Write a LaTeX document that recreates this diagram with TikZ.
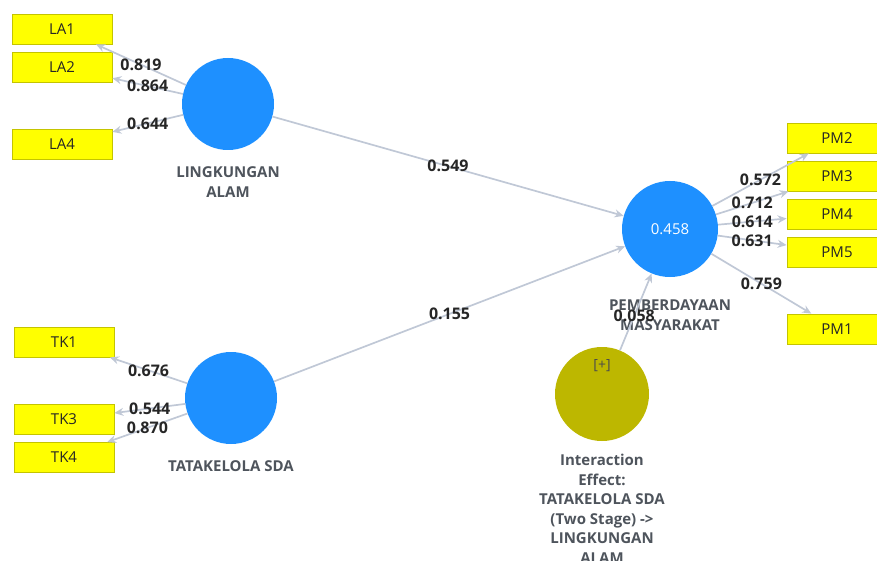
\documentclass[tikz,border=0pt]{standalone}
\usepackage{fontspec}
\setmainfont{Open Sans}
\usetikzlibrary{positioning,arrows.meta}

\definecolor{lvblue}{RGB}{30,144,255}
\definecolor{iaolive}{RGB}{189,183,0}
\definecolor{indyellow}{RGB}{255,255,0}
\definecolor{indborder}{RGB}{196,196,0}
\definecolor{lnkgray}{RGB}{192,200,214}
\definecolor{namegray}{RGB}{78,84,92}

\begin{document}
\begin{tikzpicture}[x=1pt, y=-1pt, >={Stealth[length=9pt,width=8pt]}, node distance=38pt, on grid,
    ind/.style={rectangle, draw=indborder, line width=0.8pt, fill=indyellow, minimum width=100pt, minimum height=30pt, inner sep=0pt, font=\fontsize{15}{18}\selectfont, text=black!85},
    lv/.style={circle, fill=lvblue, minimum size=92pt, inner sep=0pt, text=white, font=\fontsize{15}{18}\selectfont},
    lvname/.style={align=center, text=namegray, font=\bfseries\fontsize{15}{19.5}\selectfont},
    coef/.style={font=\bfseries\fontsize{16}{18}\selectfont, text=black!85, inner sep=1pt},
    lnk/.style={->, draw=lnkgray, line width=1.7pt}]

    \useasboundingbox (0,0) rectangle (877,561);

    % Konstrukte
    \node[lv] (LA) at (228,104) {};
    \node[lv] (TK) at (231,398) {};
    \node[lv, minimum size=96pt] (PM) at (670,229) {0.458};
    \node[lv, fill=iaolive, minimum size=94pt] (IE) at (602,394) {};
    \node[above=28pt of IE, font=\fontsize{14}{16}\selectfont, text=black!70] (IEplus) {[+]};

    \node[lvname, below=78pt of LA] (LAname) {LINGKUNGAN\\ALAM};
    \node[lvname, below=68pt of TK] (TKname) {TATAKELOLA SDA};
    \node[lvname, below=86pt of PM] (PMname) {PEMBERDAYAAN\\MASYARAKAT};
    \node[lvname, below=115pt of IE] (IEname) {Interaction\\Effect:\\TATAKELOLA SDA\\(Two Stage) ->\\LINGKUNGAN\\ALAM};

    % Indikatoren
    \node[ind] (LA1) at (62,29) {LA1};
    \node[ind, below=of LA1] (LA2) {LA2};
    \node[ind, below=77pt of LA2] (LA4) {LA4};

    \node[ind] (TK1) at (64,342) {TK1};
    \node[ind, below=77.5pt of TK1] (TK3) {TK3};
    \node[ind, below=of TK3] (TK4) {TK4};

    \node[ind] (PM2) at (837,138) {PM2};
    \node[ind, below=of PM2] (PM3) {PM3};
    \node[ind, below=of PM3] (PM4) {PM4};
    \node[ind, below=of PM4] (PM5) {PM5};
    \node[ind, below=77pt of PM5] (PM1) {PM1};

    % Pfade
    \path[lnk]
    (LA) edge node[coef] {0.819} (LA1)
    (LA) edge node[coef] {0.864} (LA2)
    (LA) edge node[coef] {0.644} (LA4)
    (TK) edge node[coef] {0.676} (TK1)
    (TK) edge node[coef] {0.544} (TK3)
    (TK) edge node[coef] {0.870} (TK4)
    (PM) edge node[coef] {0.572} (PM2)
    (PM) edge node[coef] {0.712} (PM3)
    (PM) edge node[coef] {0.614} (PM4)
    (PM) edge node[coef] {0.631} (PM5)
    (PM) edge node[coef] {0.759} (PM1)
    (LA) edge node[coef] {0.549} (PM)
    (TK) edge node[coef] {0.155} (PM)
    (IE) edge node[coef, pos=.45] {0.058} (PM);

\end{tikzpicture}
\end{document}
